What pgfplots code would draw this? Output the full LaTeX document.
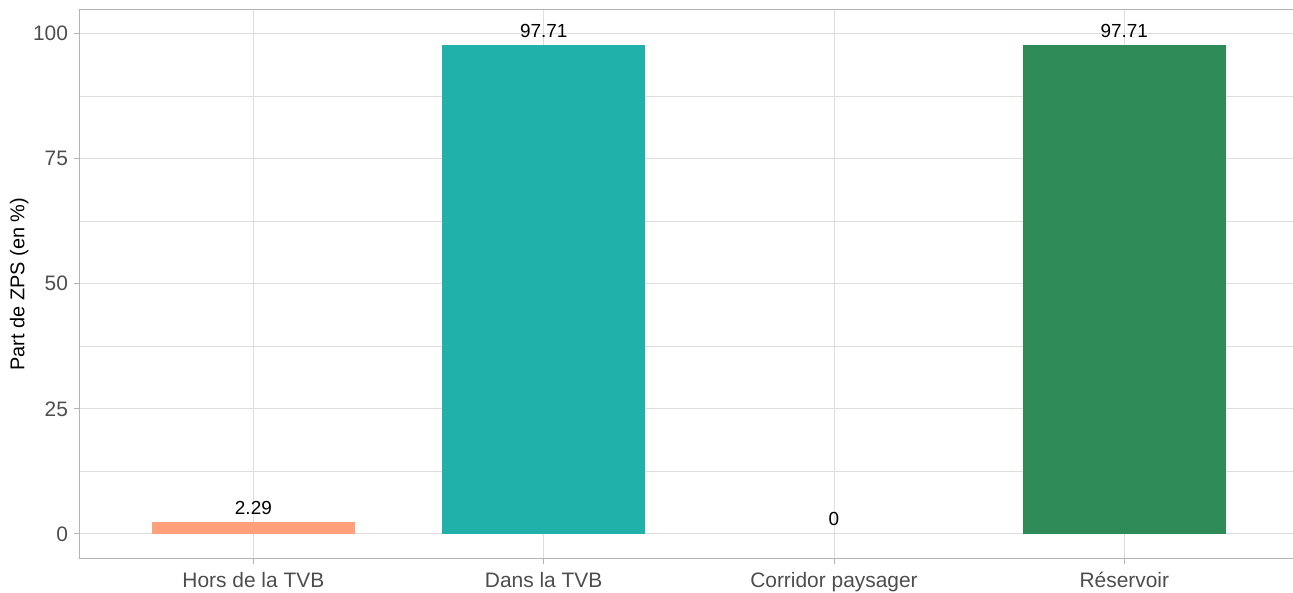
\documentclass[border=0pt]{standalone}
\usepackage{fontspec}
\setmainfont{Liberation Sans}
\usepackage{pgfplots}
\pgfplotsset{compat=1.18}
\definecolor{cHors}{HTML}{FFA07A}
\definecolor{cDans}{HTML}{20B2AA}
\definecolor{cCorr}{HTML}{FFFFFF}
\definecolor{cRes}{HTML}{2E8B57}
\definecolor{gridc}{HTML}{DEDEDE}
\definecolor{borderc}{HTML}{B3B3B3}
\definecolor{tickc}{HTML}{4D4D4D}
\begin{document}
\begin{tikzpicture}
\begin{axis}[
  at={(0,0)}, anchor=south west,
  scale only axis,
  width=1219.3bp, height=549.5bp,
  xmin=-0.6, xmax=3.6,
  ymin=-5, ymax=104.9,
  xtick={0,1,2,3},
  xticklabels={Hors de la TVB,Dans la TVB,Corridor paysager,Réservoir},
  ytick={0,25,50,75,100},
  minor ytick={12.5,37.5,62.5,87.5},
  grid=both,
  major grid style={gridc, line width=1bp},
  minor grid style={gridc, line width=0.6bp},
  axis line style={borderc, line width=1.1bp},
  tick align=outside,
  tick pos=left,
  major tick length=5bp,
  minor tick length=0pt,
  major tick style={borderc, line width=1bp},
  /pgf/number format/assume math mode=true,
  tick label style={font=\fontsize{21}{24}\selectfont, text=tickc, inner sep=0pt},
  xticklabel style={yshift=-8bp},
  yticklabel style={xshift=-6bp},
  ylabel={Part de ZPS (en \%)},
  ylabel style={at={(axis description cs:0,0.5)}, anchor=center, rotate=0, yshift=60bp, font=\fontsize{20}{24}\selectfont, text=black},
  ybar, bar width=0.7, bar shift=0pt,
  nodes near coords,
  point meta=explicit symbolic,
  every node near coord/.append style={font=\fontsize{19}{22}\selectfont, text=black, inner sep=0pt, anchor=south, yshift=7.5bp},
]
\addplot[fill=cHors, draw=none] coordinates {(0,2.29) [2.29]};
\addplot[fill=cDans, draw=none] coordinates {(1,97.71) [97.71]};
\addplot[fill=cCorr, draw=none, fill opacity=0, text opacity=1] coordinates {(2,0) [0]};
\addplot[fill=cRes, draw=none] coordinates {(3,97.71) [97.71]};
\end{axis}
\pgfresetboundingbox
\path[use as bounding box] (current axis.south west) ++(-79.2bp,-34.2bp) rectangle ++(1293bp,593bp);
\end{tikzpicture}
\end{document}
